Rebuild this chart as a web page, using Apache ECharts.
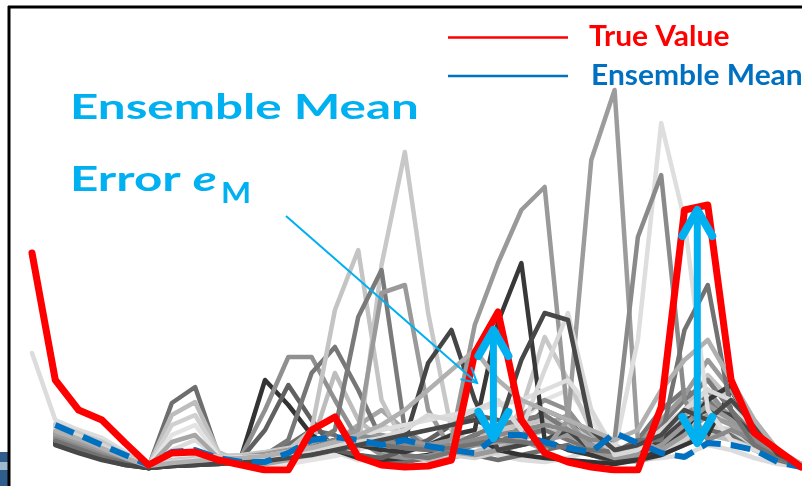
<!DOCTYPE html>
<html><head><meta charset="utf-8">
<script src="https://cdn.jsdelivr.net/npm/echarts@6/dist/echarts.min.js"></script>
<style>html,body{margin:0;padding:0;background:#fff}#c{width:802px;height:486px}</style>
</head><body><div id="c"></div>
<script>
// time steps
const steps = [0,1,2,3,4,5,6,7,8,9,10,11,12,13,14,15,16,17,18,19,20,21,22,23,24,25,26,27,28,29,30,31,32,33];
// truth
const trueValue = [217,90,60,50,27,5,17,18,10,5,0,0,40,53,13,5,3,4,10,117,158,50,17,8,3,0,0,63,260,265,90,37,20,3];
// ensemble mean
const ensembleMean = [null,45,35,25,15,5,18,20,12,8,8,17,30,33,30,25,30,24,20,17,35,35,28,22,18,37,27,17,13,27,25,20,8,3];
// ensemble members
const member01 = [117,50,40,32,18,5,20,30,12,6,8,15,20,18,10,8,12,15,20,25,15,10,8,12,20,15,10,12,15,25,20,12,6,3];
const member02 = [null,38,30,20,10,3,67,83,15,8,10,25,40,35,15,10,8,12,20,15,10,15,20,25,15,8,12,20,30,40,35,20,10,4];
const member03 = [null,45,36,28,15,4,55,68,18,8,6,10,25,97,50,30,15,10,12,18,25,30,40,35,20,10,8,15,25,35,30,22,12,5];
const member04 = [null,42,33,25,13,4,45,55,16,6,5,8,12,20,30,45,35,20,15,12,18,25,30,40,28,14,10,18,30,45,40,25,14,6];
const member05 = [null,40,30,22,12,4,35,45,14,6,5,6,10,14,20,28,25,30,35,40,45,50,70,80,50,20,12,25,50,60,45,30,15,6];
const member06 = [null,35,28,18,10,3,28,35,12,5,6,10,18,28,45,60,40,25,18,15,20,30,45,55,35,18,15,30,55,70,55,35,18,6];
const member07 = [null,30,22,15,8,2,5,6,8,15,90,65,35,20,12,10,12,15,25,35,20,15,12,10,8,6,10,15,25,35,80,40,18,5];
const member08 = [null,33,25,17,9,3,6,8,10,15,60,113,113,70,30,15,12,14,20,30,40,55,70,60,30,15,20,40,60,80,50,30,15,5];
const member09 = [null,28,20,12,6,2,5,7,9,12,40,85,50,20,15,12,20,30,45,55,50,40,60,50,25,12,15,25,45,60,50,30,12,4];
const member10 = [null,32,24,16,8,3,6,8,10,12,15,30,97,123,80,30,15,12,18,25,30,35,40,30,20,15,30,60,80,70,45,25,12,4];
const member11 = [null,44,35,26,14,4,8,10,12,14,15,20,40,160,220,70,25,20,22,30,40,45,50,45,30,20,18,30,60,95,70,40,18,6];
const member12 = [null,46,37,28,16,5,10,12,14,15,18,22,25,30,20,205,318,157,40,25,30,60,133,90,40,25,15,20,40,60,50,30,15,5];
const member13 = [null,30,22,14,7,2,5,6,8,10,12,18,25,40,153,200,40,20,25,35,45,50,55,40,25,15,20,45,70,90,60,35,15,4];
const member14 = [null,36,28,19,10,3,7,9,11,13,16,20,25,30,40,177,185,60,20,15,20,25,30,35,25,15,25,50,75,110,80,45,20,6];
const member15 = [null,26,18,11,5,2,4,5,7,9,10,14,20,28,35,30,30,107,140,70,20,25,30,40,20,10,15,30,50,60,55,35,14,4];
const member16 = [null,27,19,12,6,2,4,5,6,8,10,15,22,30,25,20,18,25,35,40,148,207,30,20,15,10,12,20,40,70,85,40,16,5];
const member17 = [null,34,26,17,9,3,6,7,9,11,12,15,20,25,30,35,30,25,30,145,207,260,283,50,20,12,15,25,45,65,50,30,14,5];
const member18 = [null,37,29,20,11,3,6,8,10,12,13,16,20,25,30,28,22,20,22,25,28,30,20,50,310,380,30,20,35,55,45,28,12,4];
const member19 = [null,41,32,24,13,4,8,10,12,13,14,18,22,28,35,40,45,50,55,60,65,70,80,90,60,20,130,347,250,60,30,20,12,5];
const member20 = [null,31,23,15,8,3,5,7,9,11,12,16,22,30,35,30,25,22,25,30,35,40,45,40,30,30,233,295,70,30,40,30,14,4];
const member21 = [null,29,21,13,7,2,5,6,8,10,11,14,18,22,26,25,22,20,22,26,30,28,25,22,20,18,30,30,140,185,60,25,12,4];
const member22 = [null,43,34,25,13,4,8,9,11,12,13,16,20,24,28,32,40,55,50,60,70,40,100,157,60,15,20,40,60,80,70,40,18,6];
const member23 = [null,25,17,10,5,2,4,5,6,8,9,12,15,20,25,30,35,40,45,50,40,110,157,150,40,20,25,35,60,50,70,45,16,5];
const member24 = [null,39,31,22,12,4,7,9,11,12,14,18,22,28,35,45,60,80,100,120,90,70,60,50,40,30,40,80,110,130,90,50,20,6];
const members = [member01,member02,member03,member04,member05,member06,member07,member08,member09,member10,member11,member12,
  member13,member14,member15,member16,member17,member18,member19,member20,member21,member22,member23,member24];
const memberColors = ['#dcdcdc','#6e6e6e','#bdbdbd','#d0d0d0','#e3e3e3','#a6a6a6','#333333','#909090','#606060','#777777','#c4c4c4','#c8c8c8',
  '#7a7a7a','#9a9a9a','#454545','#383838','#999999','#9c9c9c','#dedede','#8a8a8a','#727272','#d8d8d8','#484848','#b0b0b0'];
// error arrows: [step, top, bottom]
const errorArrows = [[19.8,142,30],[28.55,262,25]];
// callout pointer: [stepFrom, valueFrom, stepTo, valueTo]
const callout = [[10.9,254,19.1,87]];

const pair = arr => steps.map((s,i)=>[s, arr[i]]);
const series = [];
members.forEach((m,k)=>series.push({
  type:'line', data:pair(m), symbol:'none', silent:true, z:2,
  lineStyle:{color:memberColors[k], width:4.5, join:'round', cap:'round'}
}));
series.push({name:'Ensemble Mean', type:'line', data:pair(ensembleMean), symbol:'none', z:3,
  lineStyle:{color:'#0070C0', width:6, type:[20,10]}});
series.push({name:'True Value', type:'line', data:pair(trueValue), symbol:'none', z:4,
  lineStyle:{color:'#FF0000', width:7, join:'round', cap:'round'}});
series.push({type:'custom', data:errorArrows, z:5, encode:{x:0,y:[1,2]},
  renderItem(params, api){
    const x = api.value(0);
    const a = api.coord([x, api.value(1)]), b = api.coord([x, api.value(2)]);
    const hw = 15, hh = 28, st = {stroke:'#00B0F0', lineWidth:8, lineCap:'round', lineJoin:'round', fill:null};
    return {type:'group', children:[
      {type:'line', shape:{x1:a[0],y1:a[1]+4,x2:b[0],y2:b[1]-4}, style:{stroke:'#00B0F0', lineWidth:7}},
      {type:'polyline', shape:{points:[[a[0]-hw,a[1]+hh],[a[0],a[1]+2],[a[0]+hw,a[1]+hh]]}, style:st},
      {type:'polyline', shape:{points:[[b[0]-hw,b[1]-hh],[b[0],b[1]-2],[b[0]+hw,b[1]-hh]]}, style:st}
    ]};
  }});
series.push({type:'custom', data:callout, z:5, encode:{x:[0,2],y:[1,3]},
  renderItem(params, api){
    const p = api.coord([api.value(0), api.value(1)]), q = api.coord([api.value(2), api.value(3)]);
    const ang = Math.atan2(p[1]-q[1], p[0]-q[0]), L = 17, d = 0.5;
    const a1 = [q[0]+L*Math.cos(ang+d), q[1]+L*Math.sin(ang+d)], a2 = [q[0]+L*Math.cos(ang-d), q[1]+L*Math.sin(ang-d)];
    const st = {stroke:'#00B0F0', lineWidth:2, fill:null};
    return {type:'group', children:[
      {type:'line', shape:{x1:p[0],y1:p[1],x2:q[0],y2:q[1]}, style:st},
      {type:'polyline', shape:{points:[a1,q,a2]}, style:st}
    ]};
  }});

const chart = echarts.init(document.getElementById('c'), null, {renderer:'canvas'});
chart.setOption({
  animation:false,
  backgroundColor:'#ffffff',
  grid:{left:32, right:1, top:10, bottom:16},
  xAxis:{type:'value', min:0, max:33, show:false},
  yAxis:{type:'value', min:0, max:460, show:false},
  series,
  graphic:[
    {type:'rect', shape:{x:0,y:452,width:8,height:34}, style:{fill:'#2f5d8c'}},
    {type:'rect', shape:{x:0,y:462,width:8,height:8}, style:{fill:'#9fb8d0'}},
    {type:'line', shape:{x1:9,y1:6,x2:9,y2:486}, style:{stroke:'#000',lineWidth:3}},
    {type:'line', shape:{x1:8,y1:7,x2:802,y2:7}, style:{stroke:'#000',lineWidth:3}},
    {type:'line', shape:{x1:448,y1:37.5,x2:568,y2:37.5}, style:{stroke:'#FF0000',lineWidth:2.5}},
    {type:'line', shape:{x1:448,y1:76,x2:568,y2:76}, style:{stroke:'#0070C0',lineWidth:2.5}},
    {type:'text', x:589, y:23, scaleX:1.07, style:{text:'True Value', fill:'#FF0000', font:'bold 28px Lato', verticalAlign:'top'}},
    {type:'text', x:591, y:62, scaleX:1.07, style:{text:'Ensemble Mean', fill:'#0070C0', font:'bold 28px Lato', verticalAlign:'top'}},
    {type:'text', x:70, y:90, scaleX:1.41, style:{text:'Ensemble Mean', fill:'#00B0F0', font:'bold 35px Lato', verticalAlign:'top'}},
    {type:'text', x:70, y:162, scaleX:1.41, style:{text:'{n|Error }{i|e}', verticalAlign:'top',
      rich:{n:{fill:'#00B0F0', font:'bold 35px Lato'}, i:{fill:'#00B0F0', font:'italic bold 35px Lato'}}}},
    {type:'text', x:221, y:179, scaleX:1.1, style:{text:'M', fill:'#00B0F0', font:'bold 29px Lato', verticalAlign:'top'}}
  ]
});
</script></body></html>
